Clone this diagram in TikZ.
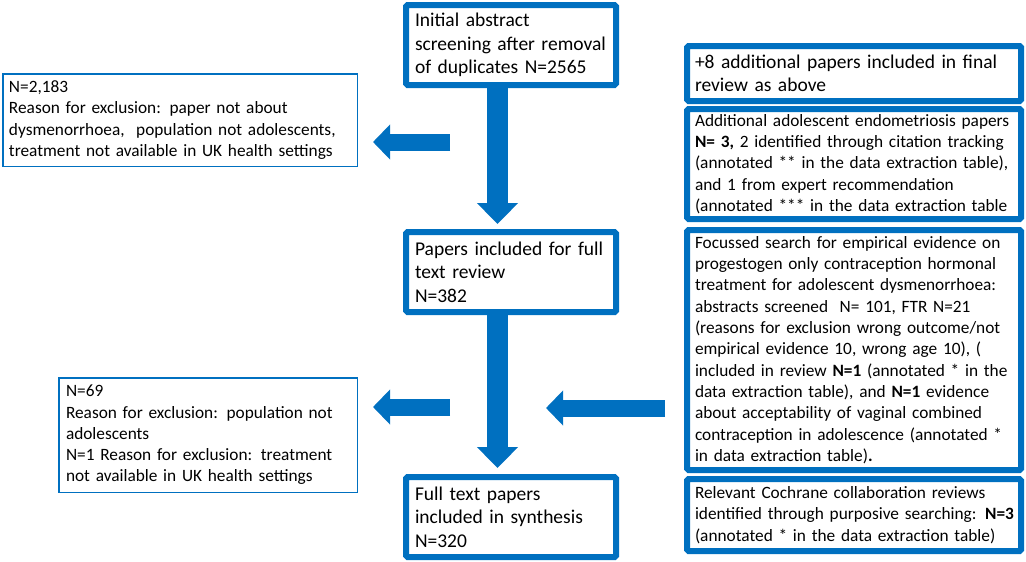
\documentclass[tikz,border=0pt]{standalone}
\usepackage{fontspec}
\setmainfont{Carlito}
\usetikzlibrary{arrows.meta}
\definecolor{obl}{HTML}{0070C0}
\begin{document}
\begin{tikzpicture}[x=1pt,y=-1pt,
  thickbox/.style={draw=obl, line width=6pt, fill=white, inner ysep=2pt, align=left, rounded corners=1.5pt},
  thinbox/.style={draw=obl, line width=1.5pt, fill=white, inner ysep=2pt, align=left},
  bigtext/.style={font=\fontsize{19.5}{23.5}\selectfont},
  smalltext/.style={font=\fontsize{17.3}{21.3}\selectfont},
  downarrow/.style={draw=obl, line width=21pt, -{Triangle[width=40pt,length=21pt]}},
  sidearrow/.style={draw=obl, line width=17pt, -{Triangle[width=34pt,length=17pt]}}]
\useasboundingbox (0,0) rectangle (1026,562);

% central column
\node[thickbox, bigtext, inner xsep=9pt, text width=192pt, minimum height=80pt] (init) at (511,45)
  {Initial abstract\\screening after removal\\of duplicates N=2565};
\node[thickbox, bigtext, inner xsep=9pt, text width=192pt, minimum height=80pt] (papers) at (511,272)
  {Papers included for full\\text review\\N=382};
\node[thickbox, bigtext, inner xsep=9pt, text width=192pt, minimum height=80pt] (full) at (511,517)
  {Full text papers\\included in synthesis\\N=320};

% exclusion boxes
\node[thinbox, smalltext, inner xsep=6.25pt, text width=342pt, minimum height=92.5pt] (ex1) at (180,120)
  {N=2,183\\Reason for exclusion: paper not about\\dysmenorrhoea,\ \ population not adolescents,\\treatment not available in UK health settings};
\node[thinbox, smalltext, inner xsep=7.25pt, text width=284pt, minimum height=114.5pt] (ex2) at (208,435)
  {N=69\\Reason for exclusion: population not\\adolescents\\N=1 Reason for exclusion: treatment\\not available in UK health settings};

% right column
\node[thickbox, bigtext, inner xsep=8pt, text width=318pt, minimum height=55pt] (plus) at (854,73.5)
  {+8 additional papers included in final\\review as above};
\node[thickbox, smalltext, inner xsep=8pt, text width=318pt, minimum height=110pt] (endo) at (854,164)
  {\mbox{Additional adolescent endometriosis papers}\\\mbox{\textbf{N= 3,} 2 identified through citation tracking}\\\mbox{(annotated ** in the data extraction table),}\\and 1 from expert recommendation\\\mbox{(annotated *** in the data extraction table}};
\node[thickbox, smalltext, inner xsep=8pt, text width=318pt, minimum height=240pt] (foc) at (854,350)
  {\mbox{Focussed search for empirical evidence on}\\\mbox{progestogen only contraception hormonal}\\\mbox{treatment for adolescent dysmenorrhoea:}\\\mbox{abstracts screened\ \ N= 101, FTR N=21}\\\mbox{(reasons for exclusion wrong outcome/not}\\\mbox{empirical evidence 10, wrong age 10), (}\\\mbox{included in review \textbf{N=1} (annotated * in the}\\\mbox{data extraction table), and \textbf{N=1} evidence}\\\mbox{about acceptability of vaginal combined}\\\mbox{contraception in adolescence (annotated *}\\in data extraction table)\textbf{.}};
\node[thickbox, smalltext, inner xsep=8pt, text width=318pt, minimum height=72pt] (coch) at (854,515)
  {\mbox{Relevant Cochrane collaboration reviews}\\\mbox{identified through purposive searching: \textbf{N=3}}\\\mbox{(annotated * in the data extraction table)}};

% arrows
\draw[downarrow] ([xshift=-13.5pt]init.south) -- ([xshift=-13.5pt,yshift=5pt]papers.north);
\draw[downarrow] ([xshift=-13.5pt]papers.south) -- ([xshift=-13.5pt,yshift=6pt]full.north);

\coordinate (a1tail) at (450,142);
\coordinate (a1tip) at (373,142);
\coordinate (a2tail) at (450,407);
\coordinate (a2tip) at (373,407);
\coordinate (a3tip) at (546,408);
\draw[sidearrow] (a1tail) -- (a1tip);
\draw[sidearrow] (a2tail) -- (a2tip);
\draw[sidearrow] ([xshift=-19pt,yshift=-58pt]foc.west) -- (a3tip);
\end{tikzpicture}
\end{document}
